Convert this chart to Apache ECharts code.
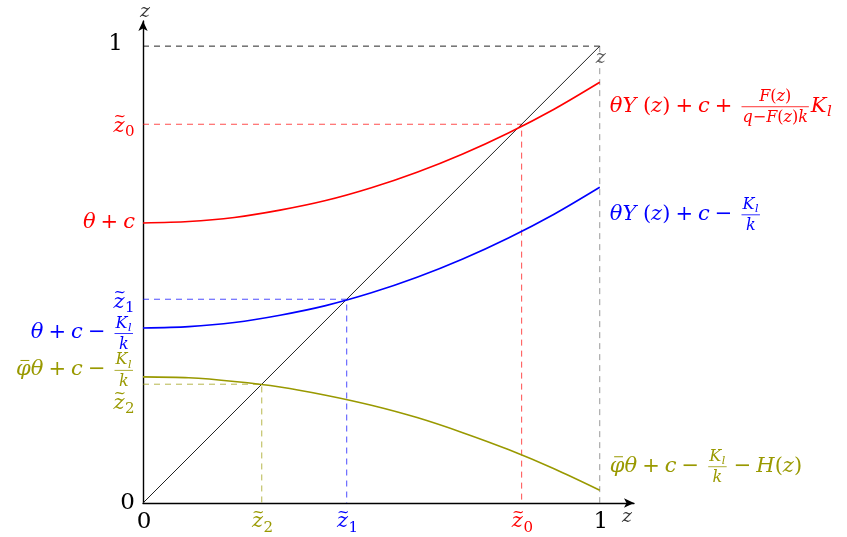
<!DOCTYPE html>
<html>
<head>
<meta charset="utf-8">
<script src="https://cdn.jsdelivr.net/npm/echarts@6/dist/echarts.min.js"></script>
<style>
  html, body { margin: 0; padding: 0; background: #fff; }
  #main { width: 847px; height: 537px; }
</style>
</head>
<body>
<div id="main"></div>
<script>
// z grid the curves were read on
const zs = [0, 0.1, 0.2, 0.3, 0.4, 0.5, 0.6, 0.7, 0.8, 0.9, 1];
// θY(z) + c + F(z)/(q-F(z)k) K_l
const redVals = [0.613, 0.616, 0.625, 0.641, 0.662, 0.690, 0.724, 0.764, 0.810, 0.862, 0.921];
// θY(z) + c - K_l/k
const blueVals = [0.383, 0.386, 0.395, 0.411, 0.432, 0.460, 0.494, 0.534, 0.580, 0.632, 0.691];
// φθ + c - K_l/k - H(z)
const oliveVals = [0.276, 0.274, 0.266, 0.254, 0.236, 0.214, 0.187, 0.154, 0.117, 0.075, 0.028];
// where each curve meets the 45° line
const z0 = 0.829, z1 = 0.446, z2 = 0.260;

const RED = '#ff0000', BLUE = '#0000ff', OLIVE = '#999900';

const chart = echarts.init(document.getElementById('main'));

const pairs = vals => zs.map((z, i) => [z, vals[i]]);
const line = (data, color, width, dashed, opacity, smooth) => ({
    type: 'line',
    data: data,
    smooth: smooth ? 0.3 : false,
    symbol: 'none',
    silent: true,
    animation: false,
    lineStyle: {color: color, width: width, type: dashed ? [6, 5] : 'solid', opacity: opacity}
});

const hiddenAxis = (max) => ({
    type: 'value',
    min: 0,
    max: max,
    axisLine: {show: true, onZero: false, symbol: ['none', 'arrow'], symbolSize: [7, 10],
        lineStyle: {color: '#000', width: 1.4}},
    axisTick: {show: false},
    axisLabel: {show: false},
    splitLine: {show: false}
});

chart.setOption({
    backgroundColor: '#fff',
    animation: false,
    grid: {left: 143, right: 213, top: 21, bottom: 34},
    xAxis: hiddenAxis(1.075),
    yAxis: hiddenAxis(1.055),
    series: [
        // guides
        line([[0, 1], [1, 1]], '#000', 1, true, 0.85),
        line([[1, 1], [1, 0]], '#808080', 1, true, 0.8),
        line([[0, z0], [z0, z0], [z0, 0]], RED, 1, true, 0.7),
        line([[0, z1], [z1, z1], [z1, 0]], BLUE, 1, true, 0.7),
        line([[0, z2], [z2, z2], [z2, 0]], OLIVE, 1, true, 0.7),
        // 45° line
        line([[0, 0], [1, 1]], '#222', 1, false, 1),
        // curves
        line(pairs(redVals), RED, 1.6, false, 1, true),
        line(pairs(blueVals), BLUE, 1.6, false, 1, true),
        line(pairs(oliveVals), OLIVE, 1.6, false, 1, true)
    ]
});

// ---- math-ish labels -------------------------------------------------------
const SERIF = '"DejaVu Serif", "Liberation Serif", serif';
const mctx = document.createElement('canvas').getContext('2d');
const fontOf = (size, it) => (it ? 'italic ' : '') + size + 'px ' + SERIF;
const tw = (t, size, it) => { mctx.font = fontOf(size, it); return mctx.measureText(t).width; };

function txt(t, x, y, size, it, color, align) {
    return {type: 'text', x: x, y: y, silent: true,
        style: {text: t, font: fontOf(size, it), fill: color, align: align || 'left', verticalAlign: 'middle'}};
}

// lays atoms on a row whose middle is y = 0
function layout(atoms, size, color) {
    const els = [];
    let x = 0;
    atoms.forEach(a => {
        if (typeof a === 'string') a = {t: a};
        if (a.frac) {
            const fs = Math.round(size * 0.76);
            const num = layout(a.frac[0], fs, color);
            const den = layout(a.frac[1], fs, color);
            const fw = Math.max(num.width, den.width) + 2;
            x += 4;
            els.push({type: 'group', x: x + (fw - num.width) / 2, y: -fs * 0.6, children: num.els});
            els.push({type: 'group', x: x + (fw - den.width) / 2, y: fs * 0.72, children: den.els});
            els.push({type: 'line', silent: true, shape: {x1: x, y1: 0.5, x2: x + fw, y2: 0.5},
                style: {stroke: color, lineWidth: 0.8}});
            x += fw + 2;
        } else if (a.sub !== undefined) {
            const fs = Math.round(size * 0.7);
            els.push(txt(a.sub, x + 0.5, size * 0.3, fs, !a.up, color));
            x += tw(a.sub, fs, !a.up) + 1;
        } else if (a.op) {
            const pad = size * 0.24;
            x += pad;
            els.push(txt(a.op, x, 0, size, false, color));
            x += tw(a.op, size, false) + pad;
        } else {
            const it = !!(a.it || a.tilde || a.bar);
            const t = a.t || a.tilde || a.bar;
            const w = tw(t, size, it);
            els.push(txt(t, x, 0, size, it, color));
            if (a.tilde) els.push(txt('~', x + w * 0.58, -size * 0.43, Math.round(size * 0.7), false, color, 'center'));
            if (a.bar) els.push({type: 'line', silent: true,
                shape: {x1: x + w * 0.3, y1: -size * 0.45, x2: x + w * 0.9, y2: -size * 0.45},
                style: {stroke: color, lineWidth: 1}});
            x += w;
        }
    });
    return {els: els, width: x};
}

function label(atoms, color, px, py, align, size) {
    const L = layout(atoms, size || 21, color);
    const gx = align === 'right' ? px - L.width : align === 'center' ? px - L.width / 2 : px;
    return {type: 'group', x: gx, y: py, children: L.els};
}

const Kl = [{t: 'K', it: 1}, {sub: 'l'}];
const KlOverK = {frac: [Kl, [{t: 'k', it: 1}]]};
const ztil = sub => [{tilde: 'z'}, {sub: sub, up: 1}];
const Yz = [{t: 'θY', it: 1}, ' (', {t: 'z', it: 1}, ')'];
const phiTheta = [{bar: 'φ'}, {t: 'θ', it: 1}];

const px = (x, y) => chart.convertToPixel({gridIndex: 0}, [x, y]);
const graphics = [];
const left = (atoms, color, y, dy, dx, size) => { const p = px(0, y); graphics.push(label(atoms, color, p[0] - 8 - (dx || 0), p[1] + dy, 'right', size)); };
const right = (atoms, color, y, dy) => { const p = px(1, y); graphics.push(label(atoms, color, p[0] + 10, p[1] + dy, 'left')); };
const bottom = (atoms, color, x, size) => { const p = px(x, 0); graphics.push(label(atoms, color, p[0] + 1, p[1] + 19, 'center', size)); };

// y-axis side
left(['1'], '#000', 1, -2, 12, 23);
left(['0'], '#000', 0, 0, 0, 23);
left(ztil('0'), RED, z0, 2);
left([{t: 'θ', it: 1}, {op: '+'}, {t: 'c', it: 1}], RED, redVals[0], 0);
left(ztil('1'), BLUE, z1, 3);
left([{t: 'θ', it: 1}, {op: '+'}, {t: 'c', it: 1}, {op: '−'}, KlOverK], BLUE, blueVals[0], 5);
left(phiTheta.concat([{op: '+'}, {t: 'c', it: 1}, {op: '−'}, KlOverK]), OLIVE, oliveVals[0], -7);
left(ztil('2'), OLIVE, z2, 19);

// x-axis side
bottom(['0'], '#000', 0, 23);
bottom(ztil('2'), OLIVE, z2);
bottom(ztil('1'), BLUE, z1);
bottom(ztil('0'), RED, z0);
bottom(['1'], '#000', 1, 23);

// curve names at the right
right(Yz.concat([{op: '+'}, {t: 'c', it: 1}, {op: '+'},
    {frac: [[{t: 'F', it: 1}, '(', {t: 'z', it: 1}, ')'],
        [{t: 'q', it: 1}, '−', {t: 'F', it: 1}, '(', {t: 'z', it: 1}, ')', {t: 'k', it: 1}]]}]).concat(Kl),
    RED, redVals[10], 24);
right(Yz.concat([{op: '+'}, {t: 'c', it: 1}, {op: '−'}, KlOverK]), BLUE, blueVals[10], 27);
right(phiTheta.concat([{op: '+'}, {t: 'c', it: 1}, {op: '−'}, KlOverK, {op: '−'},
    {t: 'H', it: 1}, '(', {t: 'z', it: 1}, ')']), OLIVE, oliveVals[10], -24);

// axis names and the diagonal's name
const pTop = px(0, 1.055), pEnd = px(1.075, 0), pDiag = px(1, 1);
graphics.push(label([{t: 'z', it: 1}], '#333', pTop[0] + 2, pTop[1] - 9, 'center', 19));
graphics.push(label([{t: 'z', it: 1}], '#333', pEnd[0] - 12, pEnd[1] + 14, 'left', 19));
graphics.push(label([{t: 'z', it: 1}], '#555', pDiag[0] + 1, pDiag[1] + 12, 'center', 19));

chart.setOption({graphic: graphics});
</script>
</body>
</html>
